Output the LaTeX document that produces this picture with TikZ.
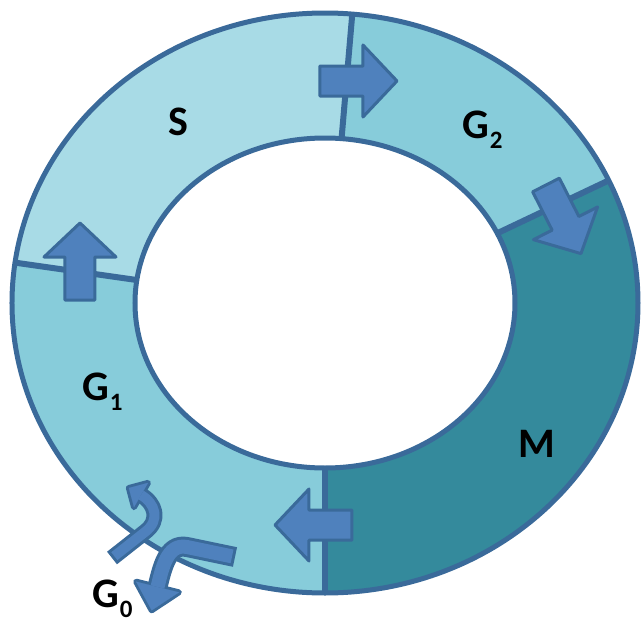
\documentclass[tikz,border=0pt]{standalone}
\usepackage{fontspec}
\setmainfont{Carlito}
\definecolor{cycleline}{HTML}{3A6A9A}
\definecolor{phaseS}{HTML}{A8DBE6}
\definecolor{phaseG}{HTML}{87CCDA}
\definecolor{phaseM}{HTML}{348A9C}
\definecolor{arrowblue}{HTML}{4F81BD}
\newcommand\lowsub[1]{\kern1pt\raisebox{-10pt}{\fontsize{25}{25}\selectfont #1}}
\begin{document}
\begin{tikzpicture}[line join=round,x=1pt,y=1pt,font=\fontsize{42}{42}\selectfont\bfseries,
	border/.style={draw=cycleline,line width=5pt},
	blockarrow/.style={fill=arrowblue,draw=cycleline,line width=3pt},
	phase/.style={anchor=base west,inner sep=0pt}]
				\useasboundingbox (-325,-319) rectangle (318,303);
				% ring of phases
				\foreach \a/\b/\c in {85/172/phaseS,25/85/phaseG,-90/25/phaseM,172/270/phaseG}
				\fill[\c] (\a:313 and 290) arc[start angle=\a,end angle=\b,x radius=313,y radius=290]
				-- (\b:190 and 165) arc[start angle=\b,end angle=\a,x radius=190,y radius=165] -- cycle;
				\draw[border] (0,0) ellipse[x radius=313,y radius=290] (0,0) ellipse[x radius=190,y radius=165];
				\foreach \a in {85,25,-90,172}\draw[border,line width=6pt] (\a:313 and 290)--(\a:190 and 165);
				% arrows between phases
				\foreach \x/\y/\r in {-5/222/0,221/118/-63,-245/3/90,27/-222/180}
				\draw[blockarrow,shift={(\x,\y)},rotate=\r] (0,-15)--(43,-15)--(43,-36)--(77,0)--(43,36)--(43,15)--(0,15)--cycle;
				% bent arrows to and from G0
				\foreach \c/\w/\s/\h in {cycleline/20/0/6,arrowblue/14/3/0.1}{
				\draw[\c,line width=\w pt,shorten <=\s pt] (-90,-254)--(-138,-244) .. controls (-158,-240) and (-163,-266) .. (-167.5,-284);
				\filldraw[\c,line width=\h pt,shift={(-167.5,-284)},rotate=-104] (0,-22)--(24,0)--(0,22)--cycle;
				\draw[\c,line width=\w pt-4pt,shorten <=\s pt] (-213,-255)--(-180,-229) .. controls (-164,-217) and (-170,-200) .. (-184,-192);
				\filldraw[\c,line width=\h pt,shift={(-184,-192)},rotate=150] (0,-14)--(14,0)--(0,14)--cycle;
				}
				% labels
				\node[phase] (S) at (-157,168) {S};
				\node[phase] (G2) at (137,165) {G\lowsub{2}};
				\node[phase] (M) at (193,-154) {M};
				\node[phase] (G1) at (-243,-97) {G\lowsub{1}};
				\node[phase] (G0) at (-233,-304) {G\lowsub{0}};
\end{tikzpicture}
\end{document}
